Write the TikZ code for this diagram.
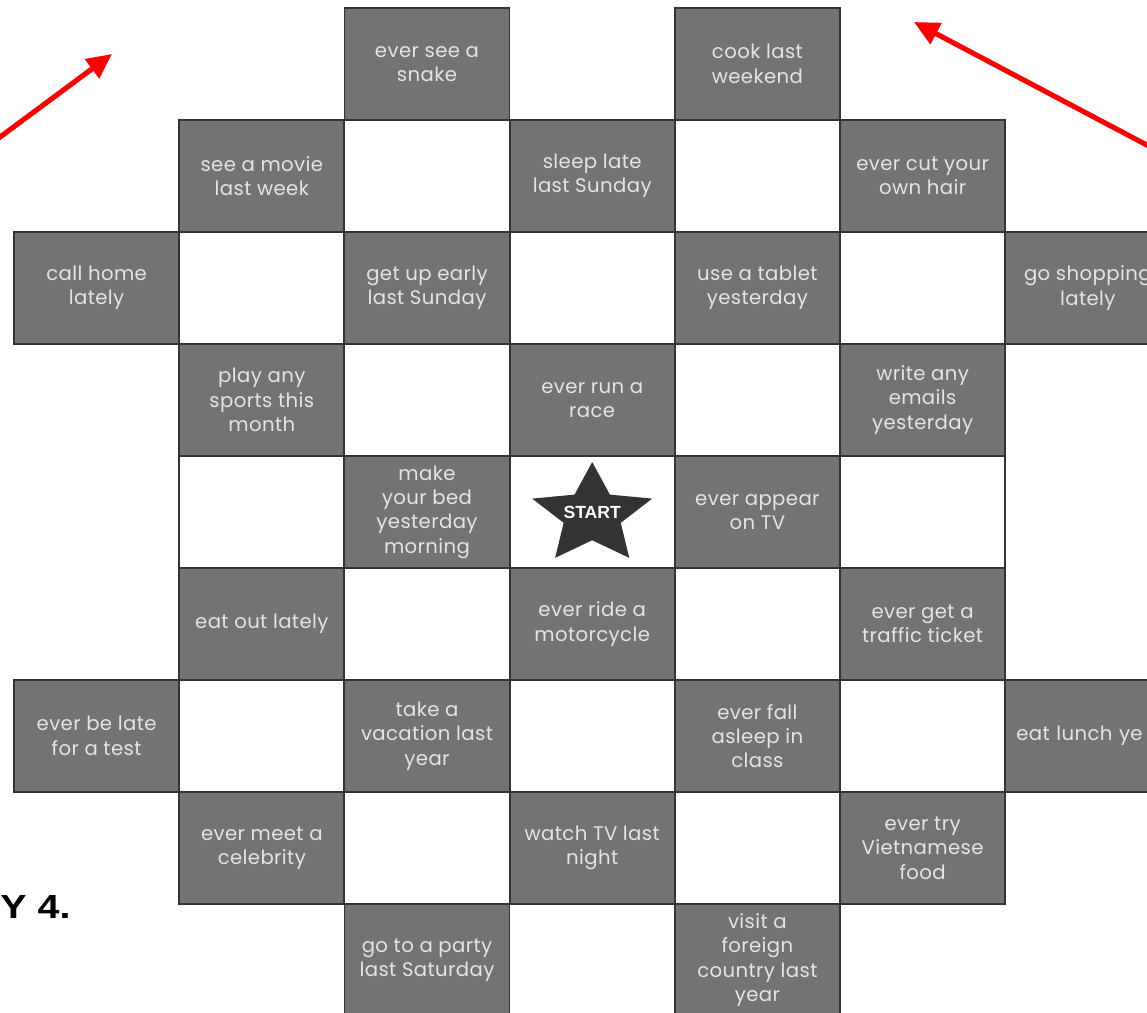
\documentclass[tikz,border=0pt]{standalone}
\usepackage{fontspec}
\setmainfont{Liberation Sans}
\newfontfamily\boardfont[LetterSpace=2]{Poppins}
\usepackage{xcolor}
\usetikzlibrary{arrows.meta, shapes.geometric}

\definecolor{boardgray}{HTML}{737373}
\definecolor{boardtext}{HTML}{E4E4E4}
\definecolor{stargray}{HTML}{333333}

\begin{document}
\begin{tikzpicture}[x=0.02cm, y=-0.02cm,
    cell/.style={rectangle, draw=black!80, line width=1.1pt, minimum width=3.3cm, minimum height=2.24cm, inner sep=0pt},
    question/.style={cell, fill=boardgray, text=boardtext, align=center, font=\boardfont\fontsize{11.2}{13.9}\selectfont},
    blank/.style={cell, fill=white},
    pointer/.style={draw=red, line width=2.9pt, -{Triangle[length=0.5cm, width=0.46cm]}}]

    \useasboundingbox (0,0) rectangle (1147,1012);
    \clip (0,0) rectangle (1147,1012);

    % empty squares
    \foreach \r/\c in {1/2,1/4,2/1,2/3,2/5,3/2,3/4,4/1,4/3,4/5,5/2,5/4,6/1,6/3,6/5,7/2,7/4}
        \node [blank] (b\r\c) at (96.6+165.2*\c, 64+112*\r) {};

    % question squares
    \node [question] (snake) at (427,64) {ever see a\\snake};
    \node [question] (cook) at (757.4,64) {cook last\\weekend};

    \node [question] (movie) at (261.8,176) {see a movie\\last week};
    \node [question] (sleep) at (592.2,176) {sleep late\\last Sunday};
    \node [question] (haircut) at (922.6,176) {ever cut your\\own hair};

    \node [question] (callhome) at (96.6,288) {call home\\lately};
    \node [question] (getup) at (427,288) {get up early\\last Sunday};
    \node [question] (tablet) at (757.4,288) {use a tablet\\yesterday};
    \node [question] (shopping) at (1087.8,288) {go shopping\\lately};

    \node [question] (sports) at (261.8,400) {play any\\sports this\\month};
    \node [question] (race) at (592.2,400) {ever run a\\race};
    \node [question] (emails) at (922.6,400) {write any\\emails\\yesterday};

    \node [question] (bed) at (427,512) {make\\your bed\\yesterday\\morning};
    \node [question] (tv) at (757.4,512) {ever appear\\on TV};

    \node [question] (eatout) at (261.8,624) {eat out lately};
    \node [question] (motorcycle) at (592.2,624) {ever ride a\\motorcycle};
    \node [question] (ticket) at (922.6,624) {ever get a\\traffic ticket};

    \node [question] (late) at (96.6,736) {ever be late\\for a test};
    \node [question] (vacation) at (427,736) {take a\\vacation last\\year};
    \node [question] (asleep) at (757.4,736) {ever fall\\asleep in\\class};
    \node [question, text width=2.86cm, inner xsep=0.22cm, align=left] (lunch) at (1087.8,736) {eat lunch ye};

    \node [question] (celebrity) at (261.8,848) {ever meet a\\celebrity};
    \node [question] (watchtv) at (592.2,848) {watch TV last\\night};
    \node [question] (vietnamese) at (922.6,848) {ever try\\Vietnamese\\food};

    \node [question] (party) at (427,960) {go to a party\\last Saturday};
    \node [question] (foreign) at (757.4,960) {visit a\\foreign\\country last\\year};

    % start star
    \node [star, star points=5, star point ratio=2.1, fill=stargray, minimum size=2.12cm, inner sep=0pt, xscale=1.19] (star) at (592.2,515) {};
    \node [text=white, font=\bfseries\fontsize{10}{12}\selectfont] (start) at (592.2,512) {START};

    % red arrows
    \coordinate (leftfrom) at (-12,146);
    \coordinate (lefttip) at (112,54);
    \coordinate (rightfrom) at (1160,152);
    \coordinate (righttip) at (914,22);
    \draw [pointer] (leftfrom) -- (lefttip);
    \draw [pointer] (rightfrom) -- (righttip);

    \node [anchor=base west, font=\bfseries\fontsize{19}{22}\selectfont, inner sep=0pt, xscale=1.18] (day) at (0,918) {Y 4.};
\end{tikzpicture}
\end{document}
